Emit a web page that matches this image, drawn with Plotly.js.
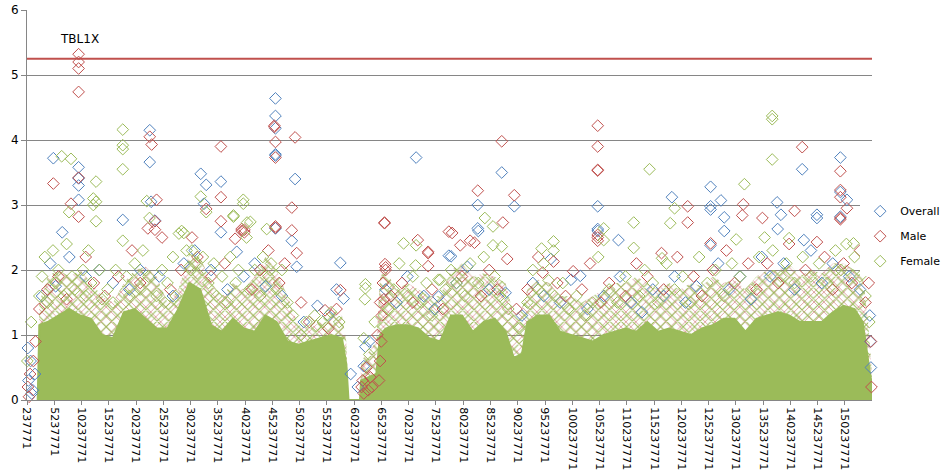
<!DOCTYPE html>
<html>
<head>
<meta charset="utf-8">
<script src="https://cdn.plot.ly/plotly-3.0.1.min.js"></script>
<style>
  html, body { margin: 0; padding: 0; background: #fff; }
  #plot { width: 949px; height: 476px; }
</style>
</head>
<body>
<div id="plot"></div>
<script>
// positions in Mb along chrX
// the solid mass of overlapping markers and the hatched fringe above it
const bandX = [2.2, 2.5, 4, 6, 8, 10, 12, 14, 16, 18, 20, 22, 24, 26, 28, 30, 32, 34, 36, 38, 40, 42, 44, 46, 48,
  50, 52, 54, 56, 58, 58.8, 59.2, 61.3, 61.5, 63, 64.3, 65, 66, 68, 70, 72, 74, 76, 78, 80, 82, 84, 86, 88,
  89.5, 91, 92, 94, 96, 98, 100, 102, 104, 106, 108, 110, 112, 114, 116, 118, 120, 122, 124, 126, 128, 130, 132,
  134, 136, 138, 140, 142, 144, 146, 148, 150, 152, 153.5, 154.5, 155.2];
const bandTop = [0, 1.15, 1.2, 1.3, 1.4, 1.3, 1.25, 1.0, 0.95, 1.35, 1.4, 1.25, 1.1, 1.1, 1.4, 1.8, 1.7, 1.15, 1.05, 1.25, 1.1, 1.05, 1.3, 1.2, 0.9,
  0.85, 0.9, 0.95, 1.0, 0.95, 0.55, 0, 0, 0.3, 0.35, 0.4, 1.0, 1.1, 1.15, 1.15, 1.1, 0.95, 0.9, 1.3, 1.3, 1.05, 1.2, 1.25, 1.05,
  0.65, 0.7, 1.2, 1.3, 1.3, 1.05, 1.0, 0.95, 0.9, 1.0, 1.05, 1.1, 1.05, 1.2, 1.05, 1.1, 1.05, 1.0, 1.1, 1.15, 1.25, 1.25, 1.05,
  1.25, 1.3, 1.35, 1.3, 1.2, 1.2, 1.2, 1.35, 1.45, 1.4, 1.2, 0.6, 0.2];
const fringeTop = [0.3, 1.5, 1.9, 2.0, 1.9, 2.0, 1.8, 1.6, 1.5, 1.8, 2.0, 2.05, 1.9, 1.5, 1.7, 2.25, 2.2, 1.8, 1.6, 1.8, 1.7, 1.9, 2.2, 2.0, 1.6,
  1.15, 1.1, 1.2, 1.4, 1.3, 0.9, 0, 0, 0.6, 0.75, 0.9, 1.9, 2.0, 1.7, 1.8, 1.7, 1.6, 1.6, 2.0, 2.1, 1.9, 1.95, 1.9, 1.8,
  1.3, 1.4, 1.7, 1.85, 1.8, 1.6, 1.6, 1.5, 1.6, 1.7, 1.8, 1.8, 1.9, 1.8, 1.7, 1.8, 1.7, 1.8, 1.75, 1.9, 1.8, 1.85, 1.7,
  1.9, 2.0, 2.0, 2.1, 1.9, 2.0, 1.95, 2.1, 2.1, 2.0, 1.9, 1.2, 0.4];

const overallPoints = [
  [5.07, 3.72], [6.7, 2.58], [9.7, 3.58], [9.7, 3.41], [9.7, 3.30], [9.7, 3.08], [17.8, 2.77], [22.75, 4.15],
  [22.75, 3.66], [23.0, 3.05], [23.7, 2.76], [32.1, 3.48], [33.1, 3.31], [32.7, 3.02], [35.8, 3.36], [35.8, 2.58],
  [38.7, 2.28], [45.8, 4.64], [45.8, 4.37], [45.8, 4.18], [45.8, 3.78], [45.8, 3.76], [45.8, 2.64], [49.4, 3.40],
  [48.8, 2.45], [49.7, 2.05], [57.7, 2.11], [58.3, 1.56], [62.3, 0.82], [62.0, 0.52], [71.6, 3.73], [75.7, 1.59],
  [77.6, 2.22], [78.0, 2.21], [87.3, 3.50], [82.9, 3.0], [89.6, 2.98], [82.9, 2.64], [83.0, 2.6], [96.3, 2.17],
  [101.7, 1.91], [104.9, 2.98], [104.9, 2.63], [104.9, 2.6], [108.7, 2.46], [118.5, 3.12], [125.6, 3.28],
  [125.6, 2.98], [125.6, 2.93], [127.5, 3.07], [128.1, 2.81], [128.1, 2.6], [137.8, 3.04], [138.5, 2.85],
  [137.9, 2.63], [142.4, 3.55], [145.1, 2.85], [145.1, 2.8], [149.4, 3.73], [149.4, 3.2], [150.6, 3.08],
  [149.4, 2.82], [154.7, 2.43], [154.6, 2.25], [125.6, 2.38], [142.7, 2.46],
  [3, 1.6], [4.5, 2.1], [5.5, 1.75], [8, 2.2], [11, 1.9], [13.5, 2.0], [16, 1.8], [19, 1.7], [21, 2.0], [24.5, 1.9],
  [27, 1.6], [29, 2.1], [31, 2.3], [34, 2.0], [37, 1.7], [40, 1.9], [42, 2.1], [44, 1.75], [47, 1.6], [51, 1.2],
  [53.5, 1.45], [55.5, 1.3], [57, 1.7], [63, 0.9], [66, 1.7], [68, 1.5], [70, 1.9], [73, 1.6], [75, 1.4], [79, 1.8],
  [81, 2.05], [85, 1.7], [88, 1.65], [91, 1.3], [93, 1.8], [95, 1.6], [98, 1.5], [100, 1.85], [103, 1.4], [106, 1.6],
  [109, 1.9], [111, 1.5], [113, 1.35], [115, 1.7], [117, 1.6], [119, 1.9], [121, 1.5], [123, 1.75], [127, 2.1],
  [129, 1.7], [131, 1.9], [133, 1.55], [135, 2.2], [136.5, 1.9], [139, 2.1], [141, 1.7], [144, 2.3], [146, 1.8],
  [148, 2.1], [151, 1.9], [153, 1.7], [154.8, 1.3], [154.9, 0.9], [155.0, 0.5], [0.5, 0.3], [0.9, 0.6], [1.3, 0.15],
  [1.7, 0.4], [0.4, 0.8], [1.1, 0.1], [60.9, 0.2], [59.6, 0.4]
];

const malePoints = [
  [9.7, 5.32], [9.7, 5.2], [9.7, 5.1], [9.7, 4.74], [9.7, 3.42], [9.7, 2.82], [5.07, 3.33], [8.3, 3.02],
  [22.75, 4.05], [23.1, 3.93], [24.0, 3.08], [23.7, 2.75], [22.4, 2.64], [23.7, 2.62], [33.1, 2.94], [35.8, 3.9],
  [35.8, 3.12], [35.8, 2.75], [40.1, 2.62], [40.1, 2.58], [45.6, 4.22], [45.6, 4.2], [45.8, 3.97], [45.8, 3.73],
  [45.8, 2.67], [49.4, 4.04], [48.8, 2.96], [48.8, 2.61], [38.4, 2.48], [39.6, 2.63], [39.6, 2.6], [45.8, 2.65],
  [49.7, 2.26], [57.7, 1.69], [54.9, 1.38], [65.8, 2.73], [65.8, 2.72], [71.9, 2.46], [73.8, 2.28], [73.8, 2.26],
  [73.8, 2.06], [65.9, 2.09], [66.0, 2.04], [77.6, 2.59], [87.3, 3.98], [82.9, 3.22], [89.6, 3.15], [87.5, 2.73],
  [78.2, 2.57], [79.7, 2.38], [81.5, 2.45], [82.3, 2.42], [88.3, 2.17], [96.8, 2.13], [100.4, 1.98], [94.8, 1.96],
  [104.9, 4.22], [104.9, 3.9], [104.9, 3.54], [104.9, 3.53], [104.9, 2.54], [104.9, 2.5], [104.9, 2.45],
  [116.6, 2.26], [142.4, 3.89], [149.4, 3.52], [149.4, 3.23], [149.4, 3.12], [150.6, 2.95], [149.4, 2.8],
  [149.4, 2.78], [131.6, 3.01], [131.4, 2.84], [135.1, 2.8], [141.0, 2.91], [121.4, 2.98], [121.4, 2.73],
  [125.6, 2.41], [145.1, 2.43], [154.6, 1.8],
  [2.5, 1.4], [4, 1.7], [6, 1.9], [7.5, 1.55], [11, 2.2], [12.5, 1.8], [14.5, 1.6], [17, 1.9], [19.5, 2.3], [21, 1.8],
  [25, 2.5], [26.5, 1.7], [28.5, 2.0], [30.5, 2.5], [31.5, 2.2], [34, 1.9], [36.5, 2.1], [41.5, 1.7], [43, 2.0],
  [44.5, 2.3], [46.5, 1.8], [47.5, 2.1], [50.5, 1.5], [52, 1.2], [55.5, 1.1], [57, 1.4], [61.8, 0.3], [62.5, 0.5],
  [63.5, 0.2], [64.5, 1.0], [65, 1.5], [65.5, 1.8], [66, 2.0], [65.3, 1.3], [64.8, 0.3], [65, 0.6], [65.2, 0.9],
  [65.7, 1.55], [62, 0.1], [62.8, 0.15], [63.2, 0.35], [61.6, 0.2], [67, 1.6], [69, 1.8], [71, 1.5], [74.5, 1.7],
  [76.5, 1.4], [80, 1.9], [83.5, 1.6], [85, 2.0], [86.5, 1.7], [90, 1.4], [92, 1.7], [94, 2.2], [97.5, 1.8],
  [99, 1.6], [102, 1.7], [103.5, 2.1], [105.5, 1.5], [107, 1.8], [110, 1.6], [112, 2.1], [114, 1.9], [117, 1.7],
  [119.5, 2.2], [122.5, 1.9], [124, 1.6], [126, 2.0], [128.5, 2.3], [130, 1.8], [132.5, 2.1], [134, 1.7], [136, 2.1],
  [138, 1.8], [140, 2.4], [143, 2.0], [146.5, 2.2], [148, 1.7], [150, 2.1], [151.5, 1.8], [153, 2.3], [154, 1.5],
  [155.0, 0.9], [155.1, 0.2], [0.4, 0.2], [0.8, 0.4], [1.4, 0.6], [0.6, 0.05], [1.8, 0.9]
];

const femalePoints = [
  [6.6, 3.75], [8.3, 3.71], [7.95, 2.89], [12.9, 3.36], [12.4, 3.1], [12.9, 3.05], [12.9, 2.75], [12.4, 3.0],
  [17.8, 4.16], [17.8, 3.92], [17.8, 3.86], [17.8, 3.55], [17.8, 2.45], [22.2, 3.06], [22.7, 2.8], [32.1, 3.13],
  [33.1, 2.89], [28.1, 2.56], [28.6, 2.6], [29.0, 2.57], [38.1, 2.82], [39.9, 3.08], [39.9, 3.02], [41.2, 2.74],
  [44.2, 2.63], [38.1, 2.84], [40.6, 2.73], [62.3, 1.78], [62.3, 1.72], [62.2, 1.55], [62.0, 0.95], [69.3, 2.41],
  [71.6, 2.38], [71.5, 2.07], [75.7, 1.85], [84.2, 2.8], [85.7, 2.67], [85.7, 2.38], [87.3, 2.36], [96.8, 2.44],
  [94.6, 2.33], [96.8, 2.3], [95.9, 1.84], [76.0, 1.85], [106.0, 2.64], [106.0, 2.46], [111.5, 2.73],
  [111.5, 2.34], [114.4, 3.55], [116.7, 2.18], [136.9, 4.37], [136.9, 4.32], [136.9, 3.7], [131.8, 3.32],
  [119.0, 2.95], [118.2, 2.72], [130.3, 2.47], [140.0, 2.49], [151.8, 2.41], [53.3, 1.14],
  [1.0, 1.2], [0.3, 0.6], [2.5, 1.6], [3, 1.9], [3.5, 2.2], [4, 1.5], [5, 2.3], [5.5, 1.8], [6, 2.0], [7, 1.6],
  [7.5, 2.4], [8.5, 1.9], [9, 1.7], [10.5, 2.0], [11, 1.6], [11.5, 2.3], [12, 1.8], [13.5, 2.0], [14, 1.55],
  [15, 1.7], [16, 1.5], [16.5, 2.0], [18.5, 1.9], [19, 1.6], [20, 2.1], [21, 1.7], [21.5, 2.3], [22.5, 1.9],
  [24, 1.6], [25, 2.0], [25.5, 1.5], [26, 1.8], [27, 2.2], [27.5, 1.6], [29.5, 2.3], [30, 2.05], [30.5, 2.3],
  [31, 2.1], [31.5, 1.95], [32.5, 2.2], [33.5, 1.8], [34.5, 2.1], [35, 1.6], [36, 1.9], [37, 1.5], [37.5, 2.2],
  [38.5, 1.8], [39, 2.0], [40.5, 2.5], [41, 1.7], [42, 2.0], [43, 1.6], [43.5, 2.2], [44.5, 1.9], [45, 2.1],
  [46, 1.7], [47, 2.0], [48, 1.5], [49, 1.3], [50.5, 1.0], [51.5, 1.2], [53, 1.3], [54.5, 1.2], [56, 1.35],
  [57.5, 1.2], [63, 0.7], [64, 1.2], [66.5, 1.4], [67.5, 1.7], [68.5, 2.1], [70, 1.6], [71, 1.9], [72.5, 1.5],
  [73.5, 1.8], [74.5, 1.3], [77, 1.7], [78, 2.0], [79, 1.8], [80.5, 1.6], [81.5, 2.1], [83, 1.8], [84, 2.2],
  [86, 1.9], [87, 1.6], [88.5, 1.4], [90.5, 1.1], [92, 1.5], [93, 2.0], [94, 1.7], [95, 2.1], [97, 1.6],
  [98.5, 1.8], [99.5, 1.4], [101, 1.6], [102.5, 1.3], [104, 1.5], [105, 2.2], [107, 1.7], [108.5, 1.5], [110, 1.9],
  [112.5, 1.6], [113.5, 2.0], [115, 1.8], [116, 1.5], [117.5, 2.1], [119, 1.7], [120.5, 1.9], [122, 1.5],
  [123.5, 2.2], [125, 1.8], [126.5, 2.0], [128, 1.6], [129.5, 2.1], [131, 1.9], [133, 1.7], [134.5, 2.2],
  [135.5, 2.5], [137, 2.3], [138.5, 1.9], [139.5, 2.1], [141, 1.8], [142.5, 2.2], [144, 1.9], [145.5, 2.1],
  [147, 1.8], [148.5, 2.3], [149.5, 2.0], [150.5, 2.4], [152, 2.2], [153, 1.9], [154, 1.6], [154.7, 1.2]
];

const threshold = 5.25;
const geneLabel = { text: 'TBL1X', x: 9.9, y: 5.55 };
const firstTick = 237771;
const tickStep = 5000000;
const chromEnd = 155.2;

const MB = 1e6;
const colors = { overall: '#4F81BD', male: '#C0504D', female: '#9BBB59' };
const bandXbp = bandX.map(v => v * MB);

function markerTrace(name, points, color) {
  return {
    name,
    x: points.map(p => p[0] * MB),
    y: points.map(p => p[1]),
    type: 'scatter',
    mode: 'markers',
    cliponaxis: false,
    legendgroup: name,
    marker: { symbol: 'diamond-open', size: 9, color, line: { width: 1, color } },
  };
}

function areaTrace(y, fill, extra) {
  return Object.assign({
    x: bandXbp,
    y,
    type: 'scatter',
    mode: 'lines',
    fill,
    line: { width: 0 },
    showlegend: false,
    hoverinfo: 'skip',
  }, extra);
}

const data = [
  areaTrace(bandTop, 'tozeroy', { fillcolor: colors.female, line: { color: colors.female, width: 2 } }),
  areaTrace(fringeTop, 'tonexty', {
    fillcolor: 'rgba(0,0,0,0)',
    fillpattern: { shape: 'x', fgcolor: colors.male, fgopacity: 0.85, size: 7, solidity: 0.16 },
  }),
  areaTrace(bandTop, 'none'),
  areaTrace(fringeTop, 'tonexty', {
    fillcolor: 'rgba(0,0,0,0)',
    fillpattern: { shape: 'x', fgcolor: colors.female, fgopacity: 1, size: 8, solidity: 0.24 },
  }),
  markerTrace('Overall', overallPoints, colors.overall),
  markerTrace('Male', malePoints, colors.male),
  markerTrace('Female', femalePoints, colors.female),
];

const layout = {
  width: 949,
  height: 476,
  margin: { l: 27, r: 77, t: 10, b: 76, autoexpand: false },
  paper_bgcolor: '#fff',
  plot_bgcolor: '#fff',
  font: { family: 'DejaVu Sans', size: 11, color: '#000' },
  showlegend: true,
  legend: {
    x: 0.986, y: 0.42, xanchor: 'left', yanchor: 'middle',
    tracegroupgap: 6, font: { size: 11 },
  },
  xaxis: {
    range: [firstTick, chromEnd * MB],
    tick0: firstTick,
    dtick: tickStep,
    tickformat: 'd',
    tickangle: 90,
    ticks: 'outside',
    ticklen: 4,
    tickcolor: '#868686',
    showgrid: false,
    zeroline: false,
    showline: true,
    linecolor: '#868686',
    tickfont: { size: 11 },
  },
  yaxis: {
    range: [0, 6],
    dtick: 1,
    ticks: 'outside',
    ticklen: 5,
    tickcolor: '#868686',
    gridcolor: '#868686',
    zeroline: false,
    showline: true,
    linecolor: '#868686',
    tickfont: { size: 12 },
  },
  shapes: [{
    type: 'line', xref: 'paper', x0: 0, x1: 1, yref: 'y', y0: threshold, y1: threshold,
    line: { color: '#C0504D', width: 2 },
  }],
  annotations: [{
    text: geneLabel.text, x: geneLabel.x * MB, y: geneLabel.y,
    showarrow: false, font: { size: 12, color: '#000' },
  }],
};

Plotly.newPlot('plot', data, layout, { displayModeBar: false, staticPlot: true });
</script>
</body>
</html>
